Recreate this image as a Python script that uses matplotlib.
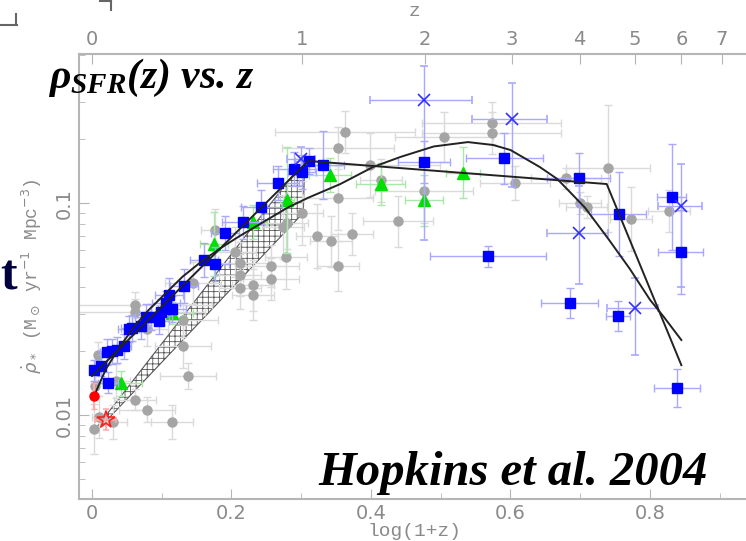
import numpy as np
import matplotlib
matplotlib.use('Agg')
import matplotlib.pyplot as plt
from matplotlib.lines import Line2D

plt.rcParams['mathtext.fontset'] = 'custom'
plt.rcParams['mathtext.rm'] = 'Liberation Serif:bold:italic'
plt.rcParams['mathtext.it'] = 'Liberation Serif:bold:italic'
plt.rcParams['mathtext.bf'] = 'Liberation Serif:bold:italic'
plt.rcParams['hatch.linewidth'] = 0.6

# ---- compilation points: x = log(1+z), y = SFR density, errors (x half-width, y in dex)
gray_x = [0.003, 0.004, 0.004, 0.009, 0.034, 0.010, 0.030, 0.062, 0.062, 0.062, 0.079, 0.079,
          0.115, 0.130, 0.138, 0.130, 0.145, 0.176, 0.205, 0.212, 0.212, 0.212, 0.231, 0.231,
          0.257, 0.257, 0.274, 0.278, 0.280, 0.301, 0.323, 0.343, 0.373, 0.353, 0.353, 0.353,
          0.363, 0.399, 0.414, 0.439, 0.476, 0.505, 0.573, 0.573, 0.606, 0.680, 0.700, 0.709,
          0.740, 0.773, 0.827]
gray_y = [0.0086, 0.0163, 0.0137, 0.0192, 0.0145, 0.0098, 0.0093, 0.033, 0.0306, 0.0118, 0.0106, 0.0254,
          0.0093, 0.0211, 0.0153, 0.028, 0.042, 0.0746, 0.0588, 0.052, 0.0457, 0.0398, 0.041, 0.037,
          0.0505, 0.0438, 0.077, 0.0556, 0.0805, 0.0897, 0.0698, 0.066, 0.0714, 0.0505, 0.106, 0.182,
          0.216, 0.151, 0.128, 0.082, 0.114, 0.205, 0.238, 0.214, 0.124, 0.131, 0.100, 0.0958,
          0.146, 0.084, 0.0917]
gray_xerr = [0.0, 0.0, 0.0, 0.005, 0.02, 0.01, 0.02, 0.11, 0.10, 0.03, 0.04, 0.03,
             0.03, 0.04, 0.04, 0.05, 0.04, 0.02, 0.03, 0.04, 0.03, 0.03, 0.03, 0.03,
             0.04, 0.04, 0.03, 0.03, 0.03, 0.03, 0.03, 0.03, 0.03, 0.03, 0.05, 0.08,
             0.10, 0.10, 0.03, 0.05, 0.07, 0.07, 0.10, 0.10, 0.05, 0.05, 0.03, 0.03,
             0.06, 0.03, 0.03]
gray_yerr = [0.12, 0.05, 0.05, 0.06, 0.08, 0.10, 0.08, 0.06, 0.06, 0.05, 0.06, 0.08,
             0.08, 0.10, 0.06, 0.08, 0.10, 0.10, 0.12, 0.10, 0.10, 0.10, 0.12, 0.12,
             0.10, 0.10, 0.15, 0.15, 0.12, 0.15, 0.15, 0.12, 0.10, 0.12, 0.15, 0.10,
             0.10, 0.15, 0.10, 0.12, 0.15, 0.12, 0.10, 0.10, 0.08, 0.05, 0.05, 0.05,
             0.30, 0.15, 0.10]

sq_x = [0.003, 0.013, 0.023, 0.022, 0.029, 0.036, 0.046, 0.053, 0.057, 0.070, 0.077, 0.085,
        0.096, 0.099, 0.106, 0.110, 0.115, 0.132, 0.161, 0.176, 0.191, 0.217, 0.243, 0.267,
        0.290, 0.301, 0.311, 0.331, 0.476, 0.591, 0.568, 0.698, 0.755, 0.831, 0.844, 0.685,
        0.754, 0.839]
sq_y = [0.0163, 0.0171, 0.0142, 0.0198, 0.0200, 0.0203, 0.0211, 0.0255, 0.0258, 0.0263, 0.029, 0.029,
        0.0277, 0.0306, 0.0337, 0.0368, 0.0316, 0.0406, 0.054, 0.0515, 0.0724, 0.081, 0.0958, 0.124,
        0.145, 0.140, 0.158, 0.151, 0.156, 0.163, 0.0562, 0.131, 0.0888, 0.1067, 0.0588, 0.0337,
        0.0293, 0.0134]
sq_xerr = [0.004, 0.005, 0.015, 0.01, 0.01, 0.01, 0.01, 0.015, 0.015, 0.015, 0.015, 0.015,
           0.015, 0.015, 0.02, 0.02, 0.02, 0.02, 0.02, 0.02, 0.02, 0.03, 0.03, 0.03,
           0.03, 0.02, 0.02, 0.03, 0.037, 0.055, 0.083, 0.045, 0.04, 0.021, 0.032, 0.041,
           0.017, 0.033]
sq_yerr = [0.05, 0.05, 0.05, 0.06, 0.06, 0.06, 0.06, 0.06, 0.06, 0.06, 0.06, 0.06,
           0.06, 0.06, 0.06, 0.08, 0.06, 0.08, 0.08, 0.08, 0.08, 0.08, 0.08, 0.08,
           0.08, 0.08, 0.06, 0.16, 0.10, 0.12, 0.05, 0.12, 0.20, 0.25, 0.20, 0.07,
           0.07, 0.09]

cross_x = [0.300, 0.476, 0.602, 0.698, 0.778, 0.845]
cross_y = [0.161, 0.306, 0.249, 0.0723, 0.032, 0.0968]
cross_xlo = [0.02, 0.077, 0.057, 0.046, 0.040, 0.034]
cross_xhi = [0.02, 0.069, 0.050, 0.042, 0.033, 0.030]
cross_ylo = [0.06, 0.66, 0.32, 0.24, 0.22, 0.38]
cross_yhi = [0.06, 0.16, 0.17, 0.22, 0.14, 0.20]

tri_x = [0.042, 0.115, 0.175, 0.231, 0.279, 0.341, 0.414, 0.476, 0.532]
tri_y = [0.0141, 0.0303, 0.064, 0.0813, 0.103, 0.136, 0.123, 0.103, 0.139]
tri_xerr = [0.03, 0.03, 0.02, 0.02, 0.01, 0.03, 0.035, 0.027, 0.025]
tri_yerr = [0.06, 0.05, 0.15, 0.08, 0.25, 0.08, 0.10, 0.12, 0.12]

red_circ = (0.003, 0.0123)
red_star = (0.02, 0.0095)

# broken power-law fit
fit_a_x = [0.0, 0.31, 0.738, 0.845]
fit_a_y = [0.0153, 0.158, 0.123, 0.0172]
# smooth parametric fit
fit_b_x = [0.003, 0.02, 0.04, 0.06, 0.08, 0.10, 0.13, 0.16, 0.19, 0.212, 0.25, 0.28, 0.31,
           0.356, 0.403, 0.442, 0.49, 0.539, 0.575, 0.60, 0.642, 0.667, 0.685, 0.707, 0.74,
           0.771, 0.80, 0.82, 0.845]
fit_b_y = [0.0123, 0.0165, 0.021, 0.026, 0.031, 0.036, 0.045, 0.054, 0.063, 0.070, 0.083, 0.095, 0.106,
           0.123, 0.148, 0.165, 0.185, 0.194, 0.188, 0.178, 0.148, 0.13, 0.113, 0.095, 0.068,
           0.049, 0.035, 0.029, 0.0226]

# hatched wedge (radio / IR constraint)
band_x = [0.0, 0.305, 0.303, 0.008]
band_y = [0.0082, 0.16, 0.090, 0.0085]


def dex(y, lo, hi):
    y = np.asarray(y)
    return [y - y / 10 ** np.asarray(lo), y * 10 ** np.asarray(hi) - y]


fig = plt.figure(figsize=(7.46, 5.41), dpi=100)
ax = fig.add_axes([79 / 746, 1 - 499 / 541, 671 / 746, 445 / 541])
ax.set_yscale('log')
ax.set_xlim(-0.0186, -0.0186 + 671 / 697.5)
ax.set_ylim(0.00402, 0.505)

ax.fill(band_x, band_y, facecolor='white', edgecolor='#555555', hatch='+++', lw=0.8, zorder=1)

ax.errorbar(gray_x, gray_y, xerr=gray_xerr, yerr=dex(gray_y, gray_yerr, gray_yerr), fmt='o',
            ms=6.5, mfc='#a5a5a5', mec='#a5a5a5', ecolor='#dadada', elinewidth=1, capsize=3,
            zorder=2)

ax.plot(fit_a_x, fit_a_y, color='#222222', lw=1.4, zorder=5)
ax.plot(fit_b_x, fit_b_y, color='#222222', lw=1.4, zorder=5)

ax.errorbar(tri_x, tri_y, xerr=tri_xerr, yerr=dex(tri_y, tri_yerr, tri_yerr), fmt='^',
            ms=9, mfc='#00e000', mec='#00e000', ecolor='#a8e8a8', elinewidth=1, capsize=3,
            zorder=3)
ax.errorbar(sq_x, sq_y, xerr=sq_xerr, yerr=dex(sq_y, sq_yerr, sq_yerr), fmt='s',
            ms=6.5, mfc='#0000ff', mec='#0000ff', ecolor='#a8a8ff', elinewidth=1, capsize=3,
            zorder=4)
ax.errorbar(cross_x, cross_y, xerr=[cross_xlo, cross_xhi], yerr=dex(cross_y, cross_ylo, cross_yhi),
            fmt='x', ms=9, mew=1.2, color='#3030ff', ecolor='#a8a8ff', elinewidth=1, capsize=3,
            zorder=4)
ax.errorbar([red_circ[0]], [red_circ[1]], yerr=dex([red_circ[1]], [0.06], [0.06]), fmt='o',
            ms=6.5, color='#ff0000', ecolor='#ffaaaa', capsize=2, zorder=6)
ax.errorbar([red_star[0]], [red_star[1]], xerr=0.015, yerr=dex([red_star[1]], [0.05], [0.05]),
            fmt='*', ms=13, mfc='none', mec='#ff2020', mew=1.2, ecolor='#ffaaaa', capsize=2, zorder=6)

grey = '#8a8a8a'
for s in ax.spines.values():
    s.set_color('#b5b5b5')
    s.set_linewidth(1.5)
ax.set_xticks([0, 0.2, 0.4, 0.6, 0.8])
ax.set_xticklabels(['0', '0.2', '0.4', '0.6', '0.8'])
ax.set_xticks(np.arange(0.1, 1.0, 0.2), minor=True)
ax.tick_params(which='both', direction='in', colors='#b5b5b5', labelcolor=grey, labelsize=14,
               right=False, top=False)
ax.tick_params(which='major', length=7)
ax.tick_params(which='minor', length=4)
ax.set_yticks([0.01, 0.1])
ax.set_yticklabels(['0.01', '0.1'], rotation=90, va='center')
ax.set_xlabel('log(1+z)', color=grey, fontsize=14, family='Liberation Mono', labelpad=0)
ax.set_ylabel(r'$\dot{\rho}_*$ (M$_\odot$ yr$^{-1}$ Mpc$^{-3}$)', color=grey, fontsize=13,
              family='Liberation Mono', math_fontfamily='dejavusans', labelpad=8)

ax2 = ax.twiny()
ax2.set_xlim(ax.get_xlim())
z_ticks = np.arange(8)
ax2.set_xticks(np.log10(1 + z_ticks))
ax2.set_xticklabels([str(z) for z in z_ticks])
ax2.tick_params(direction='in', length=7, colors='#b5b5b5', labelcolor=grey, labelsize=14)
ax2.set_xlabel('z', color=grey, fontsize=14, family='Liberation Mono', labelpad=10)
for s in ax2.spines.values():
    s.set_visible(False)

fig.text(48 / 746, 1 - 88 / 541, r'$\rho_{SFR}(z)$ vs. $z$', fontsize=30,
         family='Liberation Serif', weight='bold', style='italic', va='baseline')
fig.text(708 / 746, 1 - 485 / 541, 'Hopkins et al. 2004', fontsize=35,
         family='Liberation Serif', weight='bold', style='italic', ha='right', va='baseline')
fig.text(0.5 / 746, 1 - 290 / 541, 't', fontsize=36, family='Liberation Serif', weight='bold',
         color='#000040', va='baseline')

# page crop marks
fig.add_artist(Line2D([0, 17 / 746], [1 - 25 / 541] * 2, color='#666666', lw=1.5))
fig.add_artist(Line2D([16 / 746] * 2, [1 - 14 / 541, 1 - 25 / 541], color='#666666', lw=1.5))
fig.add_artist(Line2D([111 / 746] * 2, [1, 1 - 10 / 541], color='#666666', lw=1.5))
fig.add_artist(Line2D([100 / 746, 111 / 746], [1 - 1 / 541] * 2, color='#666666', lw=1.5))

fig.savefig('out.png', dpi=100, facecolor='white')
